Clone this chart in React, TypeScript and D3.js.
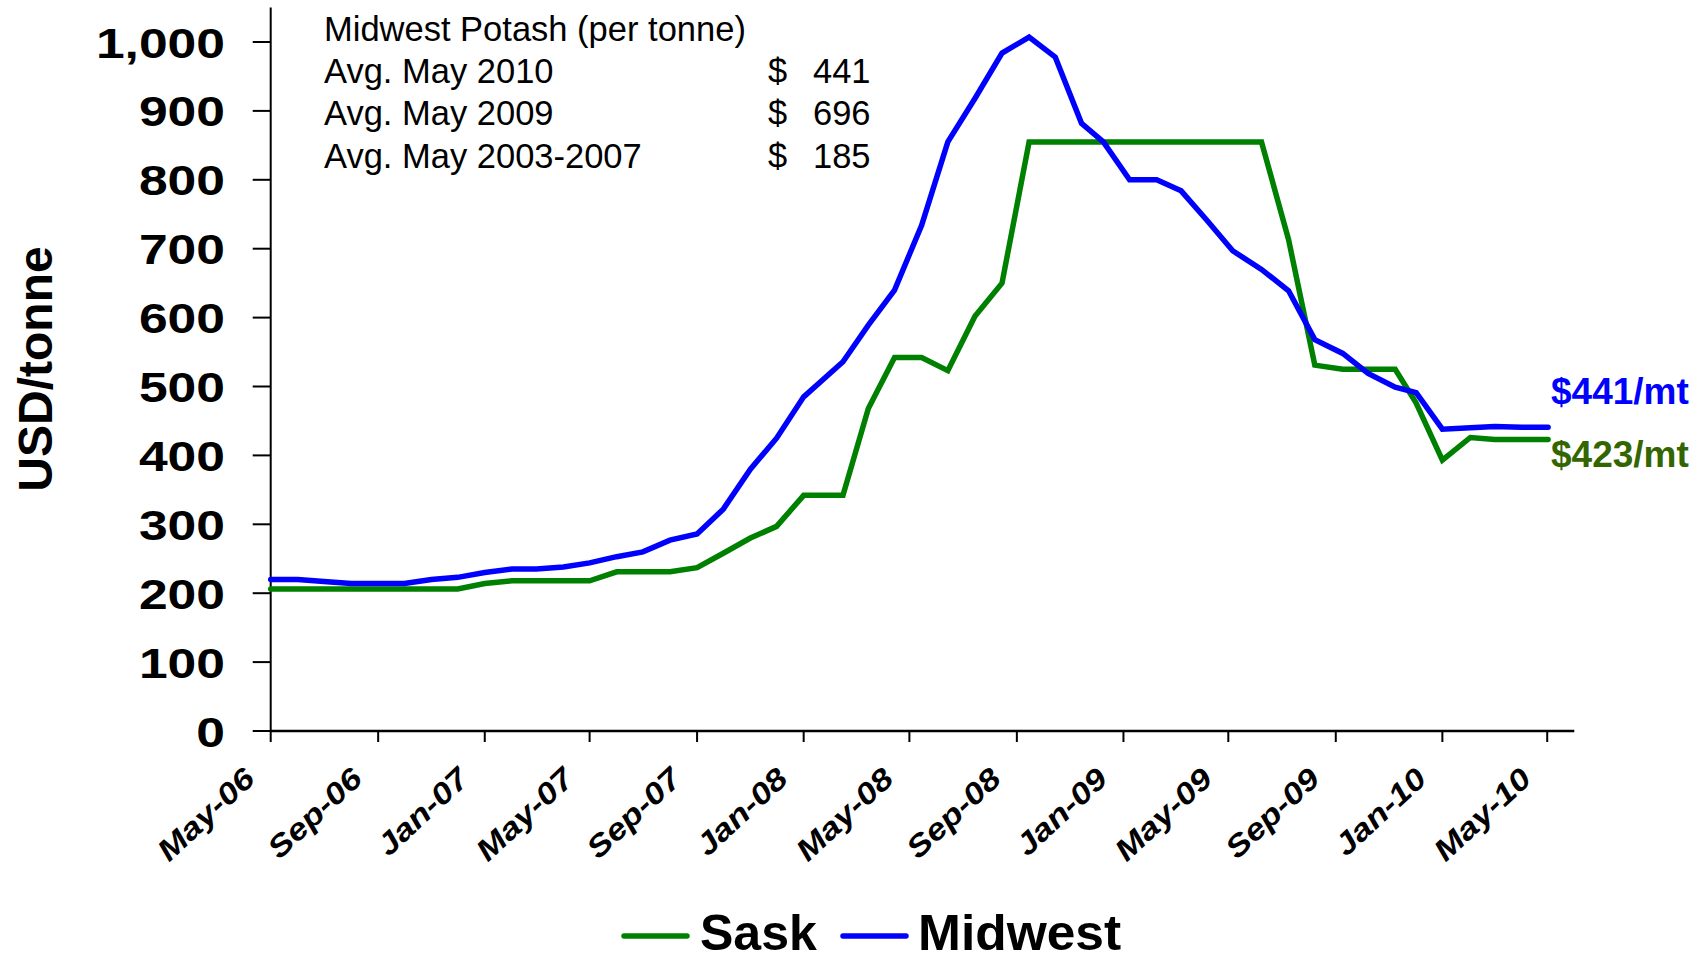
import React from "react";
import * as d3 from "d3";

const dates = [
  "2006-05-01", "2006-06-01", "2006-07-01", "2006-08-01", "2006-09-01", "2006-10-01", "2006-11-01", "2006-12-01",
  "2007-01-01", "2007-02-01", "2007-03-01", "2007-04-01", "2007-05-01", "2007-06-01", "2007-07-01", "2007-08-01",
  "2007-09-01", "2007-10-01", "2007-11-01", "2007-12-01",
  "2008-01-01", "2008-02-15", "2008-03-15", "2008-04-14", "2008-05-15", "2008-06-14", "2008-07-15", "2008-08-15",
  "2008-09-15", "2008-10-15", "2008-11-14", "2008-12-09",
  "2009-01-08", "2009-02-08", "2009-03-08", "2009-04-06", "2009-05-06", "2009-06-08", "2009-07-09", "2009-08-08",
  "2009-09-09", "2009-10-08", "2009-11-08", "2009-12-02",
  "2010-01-01", "2010-02-02", "2010-03-02", "2010-04-02", "2010-05-02",
];

const sask = [
  206, 206, 206, 206, 206, 206, 206, 206,
  214, 218, 218, 218, 218, 231, 231, 231, 237, 258, 280, 297,
  342, 342, 468, 542, 542, 523, 602, 650, 855, 855, 855, 855,
  855, 855, 855, 855, 855, 855, 713, 531, 525, 525, 525, 476,
  393, 426, 423, 423, 423,
];

const midwest = [
  220, 220, 217, 214, 214, 214, 220, 223,
  230, 235, 235, 238, 244, 253, 260, 277, 286, 322, 380, 425,
  485, 536, 589, 640, 734, 855, 918, 984, 1007, 978, 882, 855,
  800, 800, 784, 742, 697, 670, 639, 568, 548, 519, 499, 491,
  438, 440, 442, 441, 441,
];

const yTicks = [0, 100, 200, 300, 400, 500, 600, 700, 800, 900, 1000];
const yTickLabels = ["0", "100", "200", "300", "400", "500", "600", "700", "800", "900", "1,000"];

const xTickDates = [
  "2006-05-01", "2006-09-01", "2007-01-01", "2007-05-01", "2007-09-01", "2008-01-01", "2008-05-01",
  "2008-09-01", "2009-01-01", "2009-05-01", "2009-09-01", "2010-01-01", "2010-05-01",
];
const xTickLabels = [
  "May-06", "Sep-06", "Jan-07", "May-07", "Sep-07", "Jan-08", "May-08",
  "Sep-08", "Jan-09", "May-09", "Sep-09", "Jan-10", "May-10",
];

const noteTitle = "Midwest Potash (per tonne)";
const noteLabels = ["Avg. May 2010", "Avg. May 2009", "Avg. May 2003-2007"];
const noteValues = ["441", "696", "185"];

const seriesNames = ["Sask", "Midwest"];
const endLabels = ["$423/mt", "$441/mt"];

const FONT = "'Liberation Sans', Arial, Helvetica, sans-serif";
const GREEN = "#008000";
const BLUE = "#0000ff";

const parse = (s: string) => new Date(s + "T00:00:00Z");

export default function App() {
  const W = 1702;
  const H = 960;
  const x = d3.scaleUtc().domain([parse("2006-05-01"), parse("2010-06-01")]).range([270.7, 1574.3]);
  const y = d3.scaleLinear().domain([0, 1050]).range([731, 7.55]);

  const line = d3
    .line<number>()
    .x((_, i) => x(parse(dates[i])))
    .y((d) => y(d));

  const x0 = x.range()[0];
  const x1 = x.range()[1];
  const yBase = y(0);

  return (
    <svg
      width={W}
      height={H}
      viewBox={`0 0 ${W} ${H}`}
      style={{ position: "absolute", left: 0, top: 0, background: "#fff" }}
      fontFamily={FONT}
    >
      <rect x={0} y={0} width={W} height={H} fill="#fff" />

      {/* y axis */}
      <line x1={x0} x2={x0} y1={y.range()[1]} y2={yBase} stroke="#000" strokeWidth={2} />
      {yTicks.map((t, i) => (
        <g key={"yt" + t}>
          <line x1={x0 - 18} x2={x0} y1={y(t)} y2={y(t)} stroke="#000" strokeWidth={2} />
          <text
            transform={`translate(225,${y(t) + 15.5}) scale(1.2,1)`}
            textAnchor="end"
            fontSize={43}
            fontWeight="bold"
            fill="#000"
          >
            {yTickLabels[i]}
          </text>
        </g>
      ))}

      {/* x axis */}
      <line x1={x0} x2={x1} y1={yBase} y2={yBase} stroke="#000" strokeWidth={2.5} />
      {xTickDates.map((d, i) => {
        const tx = x(parse(d));
        return (
          <g key={"xt" + d}>
            <line x1={tx} x2={tx} y1={yBase} y2={yBase + 11} stroke="#000" strokeWidth={2} />
            <text
              transform={`translate(${tx - 14},${781}) rotate(-43) scale(1.18,1)`}
              textAnchor="end"
              fontSize={30}
              fontWeight="bold"
              fontStyle="italic"
              fill="#000"
            >
              {xTickLabels[i]}
            </text>
          </g>
        );
      })}

      {/* y axis title */}
      <text
        transform={`translate(51.5,369) rotate(-90)`}
        textAnchor="middle"
        fontSize={48}
        fontWeight="bold"
        fill="#000"
      >
        USD/tonne
      </text>

      {/* series */}
      <path d={line(sask) || ""} fill="none" stroke={GREEN} strokeWidth={5.5} strokeLinejoin="miter" strokeLinecap="round" />
      <path d={line(midwest) || ""} fill="none" stroke={BLUE} strokeWidth={5.5} strokeLinejoin="miter" strokeLinecap="round" />

      {/* end labels */}
      <text x={1551} y={403.5} fontSize={37} fontWeight="bold" fill={BLUE}>
        {endLabels[1]}
      </text>
      <text x={1551} y={466.5} fontSize={37} fontWeight="bold" fill="#336600">
        {endLabels[0]}
      </text>

      {/* annotation */}
      <text x={324} y={40.5} fontSize={34.5} fill="#000">
        {noteTitle}
      </text>
      {noteLabels.map((lab, i) => (
        <g key={lab}>
          <text x={324} y={83 + i * 42.3} fontSize={34.5} fill="#000">
            {lab}
          </text>
          <text x={768} y={83 + i * 42.3} fontSize={34.5} fill="#000">
            $
          </text>
          <text x={813} y={83 + i * 42.3} fontSize={34.5} fill="#000">
            {noteValues[i]}
          </text>
        </g>
      ))}

      {/* legend */}
      <line x1={624} x2={687} y1={936} y2={936} stroke={GREEN} strokeWidth={5.5} strokeLinecap="round" />
      <text x={700} y={950} fontSize={50} fontWeight="bold" fill="#000">
        {seriesNames[0]}
      </text>
      <line x1={843} x2={906} y1={936} y2={936} stroke={BLUE} strokeWidth={5.5} strokeLinecap="round" />
      <text transform="translate(918,950) scale(1.03,1)" fontSize={50} fontWeight="bold" fill="#000">
        {seriesNames[1]}
      </text>
    </svg>
  );
}
